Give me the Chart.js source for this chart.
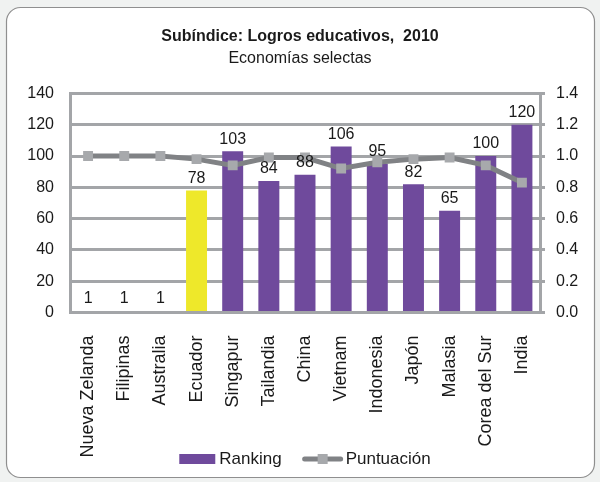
<!DOCTYPE html>
<html>
<head>
<meta charset="utf-8">
<script src="https://cdn.jsdelivr.net/npm/chart.js@4.4.1/dist/chart.umd.min.js"></script>
<style>
  html, body { margin: 0; padding: 0; background: #f0f2f1; }
  #wrap { width: 600px; height: 482px; }
</style>
</head>
<body>
<div id="wrap"><canvas id="myChart" width="600" height="482"></canvas></div>
<script>
const categories = ["Nueva Zelanda", "Filipinas", "Australia", "Ecuador", "Singapur", "Tailandia",
  "China", "Vietnam", "Indonesia", "Japón", "Malasia", "Corea del Sur", "India"];
const ranking = [1, 1, 1, 78, 103, 84, 88, 106, 95, 82, 65, 100, 120];
const puntuacion = [1.00, 1.00, 1.00, 0.98, 0.94, 0.99, 0.99, 0.92, 0.96, 0.98, 0.99, 0.94, 0.83];
const leftTicks = [0, 20, 40, 60, 80, 100, 120, 140];
const rightTicks = [0, 0.2, 0.4, 0.6, 0.8, 1.0, 1.2, 1.4];
const highlight = "Ecuador";

const PURPLE = "#6f4a9c";
const YELLOW = "#eee82a";
const GRID = "#a3a5a8";
const LINE = "#808285";
const MARKER = "#a7a9ac";
const FONT = "'Liberation Sans', Arial, sans-serif";

Chart.defaults.font.family = FONT;
Chart.defaults.font.size = 16;
Chart.defaults.color = "#1a1a1a";

/* ---------- card behind the chart ---------- */
const cardPlugin = {
  id: "card",
  beforeDraw(chart) {
    const ctx = chart.ctx;
    ctx.save();
    ctx.beginPath();
    ctx.roundRect(6.5, 7.5, 588, 470, 14);
    ctx.fillStyle = "#ffffff";
    ctx.fill();
    ctx.strokeStyle = "#8f8f8f";
    ctx.lineWidth = 1.2;
    ctx.stroke();
    ctx.restore();
  }
};

/* ---------- value labels on bars ---------- */
const barLabels = {
  id: "barLabels",
  afterDatasetsDraw(chart) {
    const ctx = chart.ctx;
    const meta = chart.getDatasetMeta(0);
    ctx.save();
    ctx.font = "16px " + FONT;
    ctx.fillStyle = "#1a1a1a";
    ctx.textAlign = "center";
    ctx.textBaseline = "bottom";
    meta.data.forEach((bar, i) => {
      ctx.fillText(String(ranking[i]), bar.x, bar.y - 4);
    });
    ctx.restore();
  }
};

/* ---------- legend (drawn over the tall label area) ---------- */
const bottomLegend = {
  id: "bottomLegend",
  afterDraw(chart) {
    const ctx = chart.ctx;
    const ds = chart.data.datasets;
    ctx.save();
    ctx.font = "17px " + FONT;
    ctx.textBaseline = "middle";
    ctx.fillStyle = "#1a1a1a";
    const w0 = ctx.measureText(ds[0].label).width;
    const w1 = ctx.measureText(ds[1].label).width;
    const total = 36 + 4 + w0 + 20 + 42 + 2 + w1;
    let x = 305 - total / 2;
    const y = 459;

    ctx.fillStyle = PURPLE;
    ctx.fillRect(x, y - 5, 36, 10);
    x += 40;
    ctx.fillStyle = "#1a1a1a";
    ctx.fillText(ds[0].label, x, y);
    x += w0 + 20;

    ctx.strokeStyle = LINE;
    ctx.lineWidth = 5;
    ctx.lineCap = "round";
    ctx.beginPath();
    ctx.moveTo(x + 3, y);
    ctx.lineTo(x + 39, y);
    ctx.stroke();
    ctx.fillStyle = MARKER;
    ctx.fillRect(x + 16, y - 5, 10, 10);
    x += 44;
    ctx.fillStyle = "#1a1a1a";
    ctx.fillText(ds[1].label, x, y);
    ctx.restore();
  }
};

const ctx = document.getElementById("myChart").getContext("2d");
new Chart(ctx, {
  type: "bar",
  data: {
    labels: categories,
    datasets: [
      {
        label: "Ranking",
        data: ranking,
        order: 2,
        yAxisID: "y",
        backgroundColor: (c) => categories[c.dataIndex] === highlight ? YELLOW : PURPLE,
        categoryPercentage: 1,
        barPercentage: 0.58
      },
      {
        type: "line",
        label: "Puntuación",
        data: puntuacion,
        order: 1,
        yAxisID: "y1",
        borderColor: LINE,
        borderWidth: 5,
        backgroundColor: MARKER,
        pointStyle: "rect",
        pointRadius: 7,
        pointBorderWidth: 0,
        pointBackgroundColor: MARKER,
        tension: 0
      }
    ]
  },
  options: {
    responsive: false,
    animation: false,
    layout: { padding: { left: 10, right: 10, top: 8, bottom: 12 } },
    plugins: {
      title: {
        display: true,
        text: "Subíndice: Logros educativos,  2010",
        font: { size: 16, weight: "bold" },
        color: "#1a1a1a",
        padding: { top: 19, bottom: 3 }
      },
      subtitle: {
        display: true,
        text: "Economías selectas",
        font: { size: 16 },
        color: "#1a1a1a",
        padding: { top: 0, bottom: 25 }
      },
      legend: { display: false },
      tooltip: { enabled: false }
    },
    scales: {
      x: {
        grid: { display: false },
        border: { display: true, color: GRID, width: 3 },
        ticks: { minRotation: 90, maxRotation: 90, padding: 15, autoSkip: false, font: { size: 18 } },
        afterFit: (s) => { s.height = 157.5; }
      },
      y: {
        position: "left",
        min: 0,
        max: 140,
        grid: { color: GRID, lineWidth: 3, drawTicks: false },
        border: { color: GRID, width: 3 },
        ticks: { padding: 16 },
        afterBuildTicks: (s) => { s.ticks = leftTicks.map(v => ({ value: v })); },
        afterFit: (s) => { s.width = 60; }
      },
      y1: {
        position: "right",
        min: 0,
        max: 1.4,
        grid: { drawOnChartArea: false, color: GRID, lineWidth: 3, tickLength: 5 },
        border: { color: GRID, width: 3 },
        ticks: { padding: 11, callback: (v) => Number(v).toFixed(1) },
        afterBuildTicks: (s) => { s.ticks = rightTicks.map(v => ({ value: v })); },
        afterFit: (s) => { s.width = 50; }
      }
    }
  },
  plugins: [cardPlugin, barLabels, bottomLegend]
});
</script>
</body>
</html>
